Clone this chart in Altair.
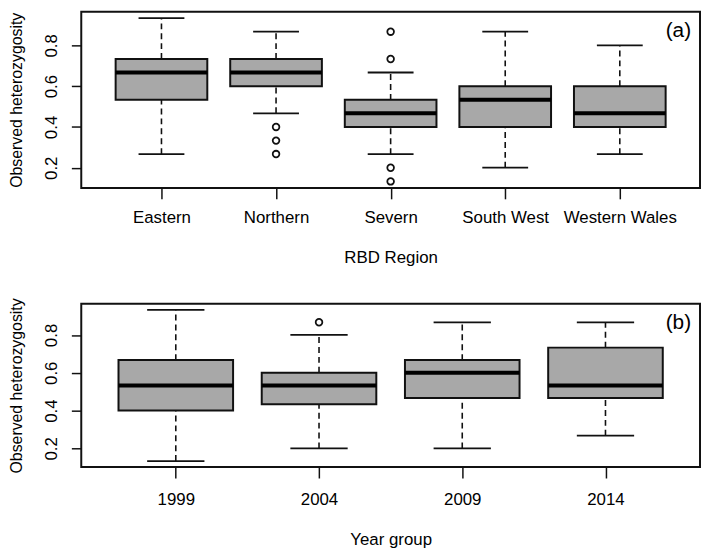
import altair as alt
import pandas as pd

FONT = "Liberation Sans"
INK = "#111111"
FILL = "#a8a8a8"

# ---- panel (a): RBD region ----
regions = ["Eastern", "Northern", "Severn", "South West", "Western Wales"]
reg_lower = [0.267, 0.467, 0.267, 0.2, 0.267]
reg_q1 = [0.533, 0.6, 0.4, 0.4, 0.4]
reg_median = [0.667, 0.667, 0.467, 0.533, 0.467]
reg_q3 = [0.733, 0.733, 0.533, 0.6, 0.6]
reg_upper = [0.933, 0.867, 0.667, 0.867, 0.8]
reg_out_group = ["Northern", "Northern", "Northern", "Severn", "Severn", "Severn", "Severn"]
reg_out_value = [0.4, 0.333, 0.267, 0.867, 0.733, 0.2, 0.133]

# ---- panel (b): year group ----
years = ["1999", "2004", "2009", "2014"]
yr_lower = [0.133, 0.2, 0.2, 0.267]
yr_q1 = [0.4, 0.433, 0.467, 0.467]
yr_median = [0.533, 0.533, 0.6, 0.533]
yr_q3 = [0.667, 0.6, 0.667, 0.733]
yr_upper = [0.933, 0.8, 0.867, 0.867]
yr_out_group = ["2004"]
yr_out_value = [0.867]

y_ticks = [0.2, 0.4, 0.6, 0.8]
y_domain = [0.101, 0.965]
y_title = "Observed heterozygosity"


def panel(groups, lower, q1, med, q3, upper, og, ov, xtitle, tag, w, h,
          label_pad=11, title_y=70):
    n = len(groups)
    pos_of = {g: i + 1 for i, g in enumerate(groups)}
    stats = pd.DataFrame({
        "pos": list(range(1, n + 1)), "group": groups, "lower": lower,
        "q1": q1, "median": med, "q3": q3, "upper": upper,
    })
    outl = pd.DataFrame({"pos": [pos_of[g] for g in og], "value": ov})
    ext = 0.04 * n
    xs = alt.Scale(domain=[0.5 - ext, n + 0.5 + ext], nice=False, zero=False)
    ys = alt.Scale(domain=y_domain, nice=False, zero=False)
    label_expr = "[" + ",".join("'%s'" % g for g in groups) + "][datum.value - 1]"

    xaxis = alt.Axis(values=list(range(1, n + 1)), labelExpr=label_expr, title=xtitle,
                     grid=False, domain=False, tickSize=11, tickWidth=1.5, tickColor=INK,
                     labelPadding=label_pad, labelFlush=False, labelOverlap=False,
                     labelFont=FONT, labelFontSize=17, labelColor="black",
                     titleFont=FONT, titleFontSize=17, titleFontWeight="normal",
                     titleColor="black", titleY=title_y, titleX=w / 2,
                     titleBaseline="middle", titleAlign="center")
    yaxis = alt.Axis(values=y_ticks, format=".1f", title=y_title, grid=False, domain=False,
                     tickSize=10, tickWidth=1.5, tickColor=INK, labelAngle=270,
                     labelAlign="center", labelBaseline="bottom", labelPadding=11,
                     labelFont=FONT, labelFontSize=17, labelColor="black",
                     titleFont=FONT, titleFontSize=16, titleFontWeight="normal",
                     titleColor="black", titleAngle=270, titleX=-65, titleY=h / 2,
                     titleBaseline="middle", titleAlign="center")

    def X(f):
        return alt.X(f, scale=xs, axis=xaxis, title=xtitle)

    def Y(f):
        return alt.Y(f, scale=ys, axis=yaxis, title=y_title)

    base = alt.Chart(stats).transform_calculate(
        bl="datum.pos - 0.4", br="datum.pos + 0.4",
        cl="datum.pos - 0.2", cr="datum.pos + 0.2")

    wl = base.mark_rule(strokeDash=[6, 4], strokeWidth=1.6, color=INK).encode(
        x=X("pos:Q"), y=Y("lower:Q"), y2="q1:Q")
    wh = base.mark_rule(strokeDash=[6, 4], strokeWidth=1.6, color=INK).encode(
        x=X("pos:Q"), y=Y("q3:Q"), y2="upper:Q")
    cap_lo = base.mark_rule(strokeWidth=1.8, color=INK).encode(
        x=X("cl:Q"), x2="cr:Q", y=Y("lower:Q"))
    cap_hi = base.mark_rule(strokeWidth=1.8, color=INK).encode(
        x=X("cl:Q"), x2="cr:Q", y=Y("upper:Q"))
    box = base.mark_rect(fill=FILL, stroke=INK, strokeWidth=2).encode(
        x=X("bl:Q"), x2="br:Q", y=Y("q1:Q"), y2="q3:Q")
    medl = base.mark_rule(strokeWidth=4, color="black").encode(
        x=X("bl:Q"), x2="br:Q", y=Y("median:Q"))
    pts = alt.Chart(outl).mark_point(shape="circle", filled=False, size=45,
                                     strokeWidth=1.8, color=INK, opacity=1).encode(
        x=X("pos:Q"), y=Y("value:Q"))
    txt = alt.Chart(pd.DataFrame({"t": [tag]})).mark_text(
        align="right", baseline="middle", font=FONT, fontSize=21, color="black").encode(
        text="t:N", x=alt.value(w - 9), y=alt.value(20))

    return alt.layer(wl, wh, cap_lo, cap_hi, box, medl, pts, txt).properties(width=w, height=h)


pa = panel(regions, reg_lower, reg_q1, reg_median, reg_q3, reg_upper,
           reg_out_group, reg_out_value, "RBD Region", "(a)", 625, 178)
pb = panel(years, yr_lower, yr_q1, yr_median, yr_q3, yr_upper,
           yr_out_group, yr_out_value, "Year group", "(b)", 625, 165,
           label_pad=14, title_y=73)

chart = alt.vconcat(pa, pb, spacing=31).properties(
    padding=0, background="white").configure_view(stroke=INK, strokeWidth=2)

chart.save("out.html", embed_options={"renderer": "svg", "actions": False})
